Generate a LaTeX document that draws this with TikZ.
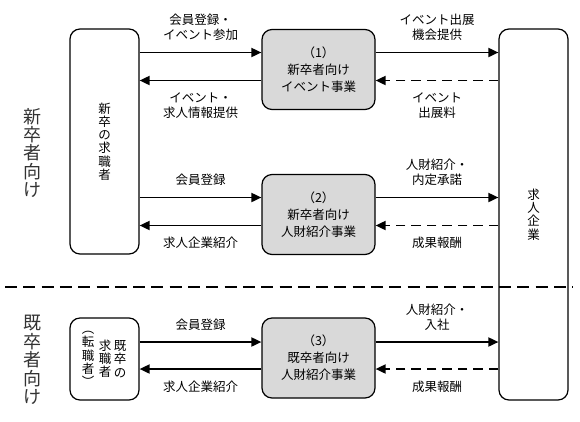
\documentclass[tikz,border=0pt]{standalone}
\usepackage{fontspec}
\setmainfont{Noto Sans CJK JP}
\usetikzlibrary{arrows.meta}

\tikzset{
  actor/.style={draw, line width=1.2pt, rounded corners=10pt, minimum width=69pt,
    align=center, inner sep=0pt, font=\fontsize{12.5}{13.2}\selectfont},
  biz/.style={actor, fill=black!15, minimum width=113pt, minimum height=80pt,
    font=\fontsize{12.5}{17}\selectfont},
  vtxt/.style={align=center, inner sep=0pt, font=\fontsize{12.5}{13.2}\selectfont},
  side/.style={align=center, inner sep=0pt, text=black!80, font=\fontsize{18}{18.4}\selectfont},
  lbl/.style={align=center, inner sep=0pt, font=\fontsize{12.5}{15}\selectfont},
  arr/.style={line width=1.8pt, -{Triangle[length=10pt,width=9pt]}},
  darr/.style={arr, dash pattern=on 9.5pt off 6pt},
  divider/.style={line width=1.8pt, dash pattern=on 12pt off 6.3pt},
}

\begin{document}
\begin{tikzpicture}[x=1pt,y=1pt]
  \useasboundingbox (0,0) rectangle (580,-421);
  % 左右の枠
  \node[actor, minimum height=225pt] (seeker) at (104.5,-141.5) {新\\卒\\の\\求\\職\\者};
  \node[actor, minimum height=82pt] (exseeker) at (104.5,-359) {};
  \node[vtxt] (ex1) at ([xshift=15.5pt]exseeker.center) {既\\卒\\の};
  \node[vtxt] (ex2) at ([xshift=0.5pt]exseeker.center) {求\\職\\者};
  \node[vtxt] (ex3) at ([xshift=-16.5pt]exseeker.center) {︵\\転\\職\\者\\︶};
  \node[actor, minimum height=371pt] (firm) at (533.5,-214.5) {求\\人\\企\\業};
  % 事業
  \node[biz] (ev) at (318.5,-69.5) {（1）\\新卒者向け\\イベント事業};
  \node[biz] (agt) at (318.5,-214.5) {（2）\\新卒者向け\\人財紹介事業};
  \node[biz] (agt3) at (318.5,-358) {（3）\\既卒者向け\\人財紹介事業};
  % 見出し
  \node[side] (newlbl) at (32,-153) {新\\卒\\者\\向\\け};
  \node[side] (exlbl) at (32,-360) {既\\卒\\者\\向\\け};
  % 一段目
  \coordinate (r1) at ([yshift=17pt]ev.west);
  \coordinate (s1) at ([yshift=-11pt]ev.west);
  \draw[arr] (seeker.east |- r1) -- (r1) node[lbl, midway, above=11pt] {会員登録・\\イベント参加};
  \draw[arr] (s1) -- (seeker.east |- s1) node[lbl, midway, below=11pt] {イベント・\\求人情報提供};
  \draw[arr] (ev.east |- r1) -- (firm.west |- r1) node[lbl, midway, above=11pt] {イベント出展\\機会提供};
  \draw[darr] (firm.west |- s1) -- (ev.east |- s1) node[lbl, midway, below=11pt] {イベント\\出展料};
  % 二段目
  \coordinate (r2) at ([yshift=17pt]agt.west);
  \coordinate (s2) at ([yshift=-11pt]agt.west);
  \draw[arr] (seeker.east |- r2) -- (r2) node[lbl, midway, above=11pt] {会員登録};
  \draw[arr] (s2) -- (seeker.east |- s2) node[lbl, midway, below=11pt] {求人企業紹介};
  \draw[arr] (agt.east |- r2) -- (firm.west |- r2) node[lbl, midway, above=11pt] {人財紹介・\\内定承諾};
  \draw[darr] (firm.west |- s2) -- (agt.east |- s2) node[lbl, midway, below=11pt] {成果報酬};
  % 三段目
  \coordinate (r3) at ([yshift=16pt]agt3.west);
  \coordinate (s3) at ([yshift=-11pt]agt3.west);
  \draw[arr] (exseeker.east |- r3) -- (r3) node[lbl, midway, above=11pt] {会員登録};
  \draw[arr] (s3) -- (exseeker.east |- s3) node[lbl, midway, below=11pt] {求人企業紹介};
  \draw[arr] (agt3.east |- r3) -- (firm.west |- r3) node[lbl, midway, above=11pt] {人財紹介・\\入社};
  \draw[darr] (firm.west |- s3) -- (agt3.east |- s3) node[lbl, midway, below=11pt] {成果報酬};
  % 区切り線
  \coordinate (dl) at (5,-287);
  \coordinate (dr) at (573,-287);
  \draw[divider] (dl) -- (dr);
\end{tikzpicture}
\end{document}
